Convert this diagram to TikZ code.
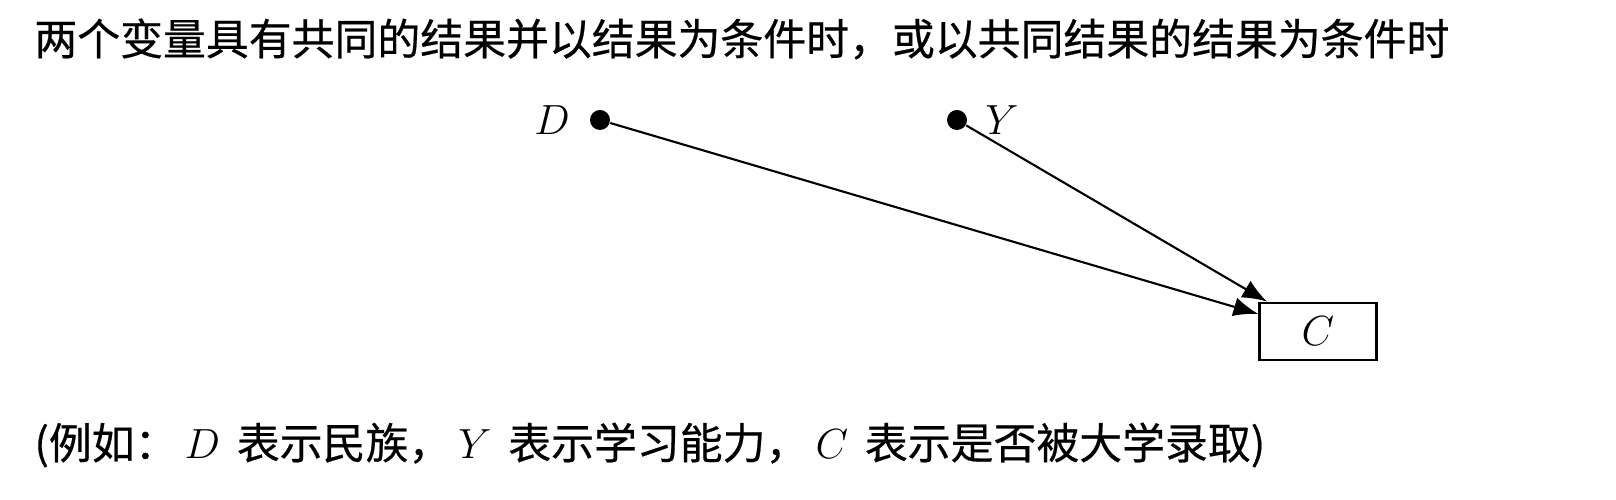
\documentclass[tikz,border=0pt]{standalone}
\usepackage{xcolor}
\usepackage{fontspec}
\newfontfamily\cjk[FakeBold=0.5]{Noto Sans CJK SC}
\usepackage{tikz}
\usetikzlibrary{arrows.meta}
\usepackage{amsmath, amssymb}

\begin{document}
\begin{tikzpicture}[
	txt/.style={font=\cjk\fontsize{12.2}{14}\selectfont},
	dot/.style={circle, fill=black, inner sep=0pt, minimum size=0.2cm},
	varbox/.style={draw, line width=0.8pt, minimum width=1.17cm, minimum height=0.57cm, font=\fontsize{12}{14}\selectfont},
	arr/.style={-{Latex[length=7pt,width=5.5pt]}, line width=0.6pt}
]
\useasboundingbox (0,0) rectangle (16.16,5);
 \draw(0.22,4.61) node[txt, anchor=west] (title) {两个变量具有共同的结果并以结果为条件时，或以共同结果的结果为条件时}
		(6.00,3.80) node[dot] (D) {}
		(5.52,3.80) node[txt] (Dlab) {$D$}
		(9.57,3.80) node[dot] (Y) {}
		(10.02,3.80) node[txt] (Ylab) {$Y$}
		(13.18,1.685) node[varbox] (C) {$C$}
		%Beispiel
		(0.22,0.55) node[txt, anchor=west] (note) {(例如：\,$D$\,\ 表示民族，\,$Y$\,\ 表示学习能力，\,$C$\,\ 表示是否被大学录取)};
		\draw[arr] (D) -- (C);
		\draw[arr] (Y) -- (C);
\end{tikzpicture}
\end{document}
